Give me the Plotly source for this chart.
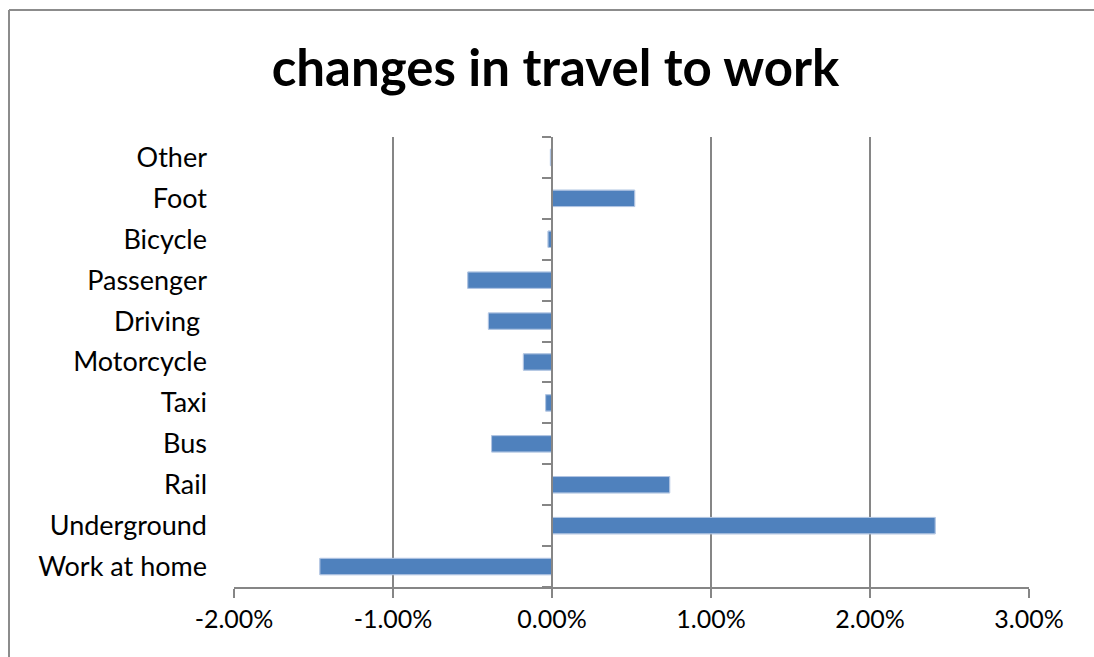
import plotly.graph_objects as go

# Categories listed bottom-to-top, as drawn on the chart.
modes = ["Work at home", "Underground", "Rail", "Bus", "Taxi", "Motorcycle",
         "Driving ", "Passenger", "Bicycle", "Foot", "Other"]
change = [-0.0146, 0.0241, 0.0074, -0.0038, -0.0004, -0.0018,
          -0.0040, -0.0053, -0.00025, 0.0052, -0.0001]
x_ticks = [-0.02, -0.01, 0.0, 0.01, 0.02, 0.03]
x_tick_labels = ["-2.00%", "-1.00%", "0.00%", "1.00%", "2.00%", "3.00%"]

BLUE = "#4F81BD"
GREY = "#868686"
FONT = "Lato, 'Open Sans', sans-serif"

fig = go.Figure()
fig.add_trace(go.Bar(
    y=modes, x=change, orientation="h",
    marker=dict(color=BLUE, line=dict(color="#7F9FCF", width=1)),
    hoverinfo="x+y", showlegend=False,
))
# invisible copy to carry the centre axis with boundary ticks
fig.add_trace(go.Bar(
    y=modes, x=change, orientation="h", yaxis="y2",
    marker=dict(color="rgba(0,0,0,0)"), hoverinfo="skip", showlegend=False,
))

# chart-area frame: only its top and left edges fall inside the picture
left = -225 / 795
top = 1 + 127 / 450
frame = dict(type="line", xref="paper", yref="paper",
             line=dict(color="#8C8C8C", width=2), layer="below")

fig.update_layout(
    width=1094, height=657,
    margin=dict(l=234, r=65, t=137, b=70),
    paper_bgcolor="white", plot_bgcolor="white",
    font=dict(family=FONT, size=24, color="black"),
    bargap=0.6, barmode="overlay",
    title=dict(text="<b>changes in travel to work</b>", xref="paper",
               x=0.4044, xanchor="center", y=0.897, yanchor="middle",
               font=dict(family=FONT, size=51, color="black")),
    xaxis=dict(range=[-0.02, 0.03], tickvals=x_ticks, ticktext=x_tick_labels,
               showgrid=True, gridcolor=GREY, gridwidth=2,
               showline=True, linecolor=GREY, linewidth=2,
               ticks="outside", ticklen=9, tickwidth=2, tickcolor=GREY,
               zeroline=False, domain=[0, 1], fixedrange=True,
               tickfont=dict(size=25)),
    yaxis=dict(type="category", categoryorder="array", categoryarray=modes,
               showgrid=False, showline=False, ticks="", zeroline=False,
               ticklabelstandoff=26, tickfont=dict(size=27)),
    yaxis2=dict(type="category", categoryorder="array", categoryarray=modes,
                overlaying="y", matches="y", anchor="free", position=0.4,
                side="left", showline=True, linecolor=GREY, linewidth=2,
                ticks="outside", tickson="boundaries", ticklen=9,
                tickwidth=2, tickcolor=GREY, showticklabels=False,
                showgrid=False, zeroline=False),
    shapes=[dict(frame, x0=left, x1=1.1, y0=top, y1=top),
            dict(frame, x0=left, x1=left, y0=-0.3, y1=top)],
)

fig.write_html("out.html", config={"displayModeBar": False},
               post_script="document.body.style.margin='0';"
                           "document.body.style.overflow='hidden';")
